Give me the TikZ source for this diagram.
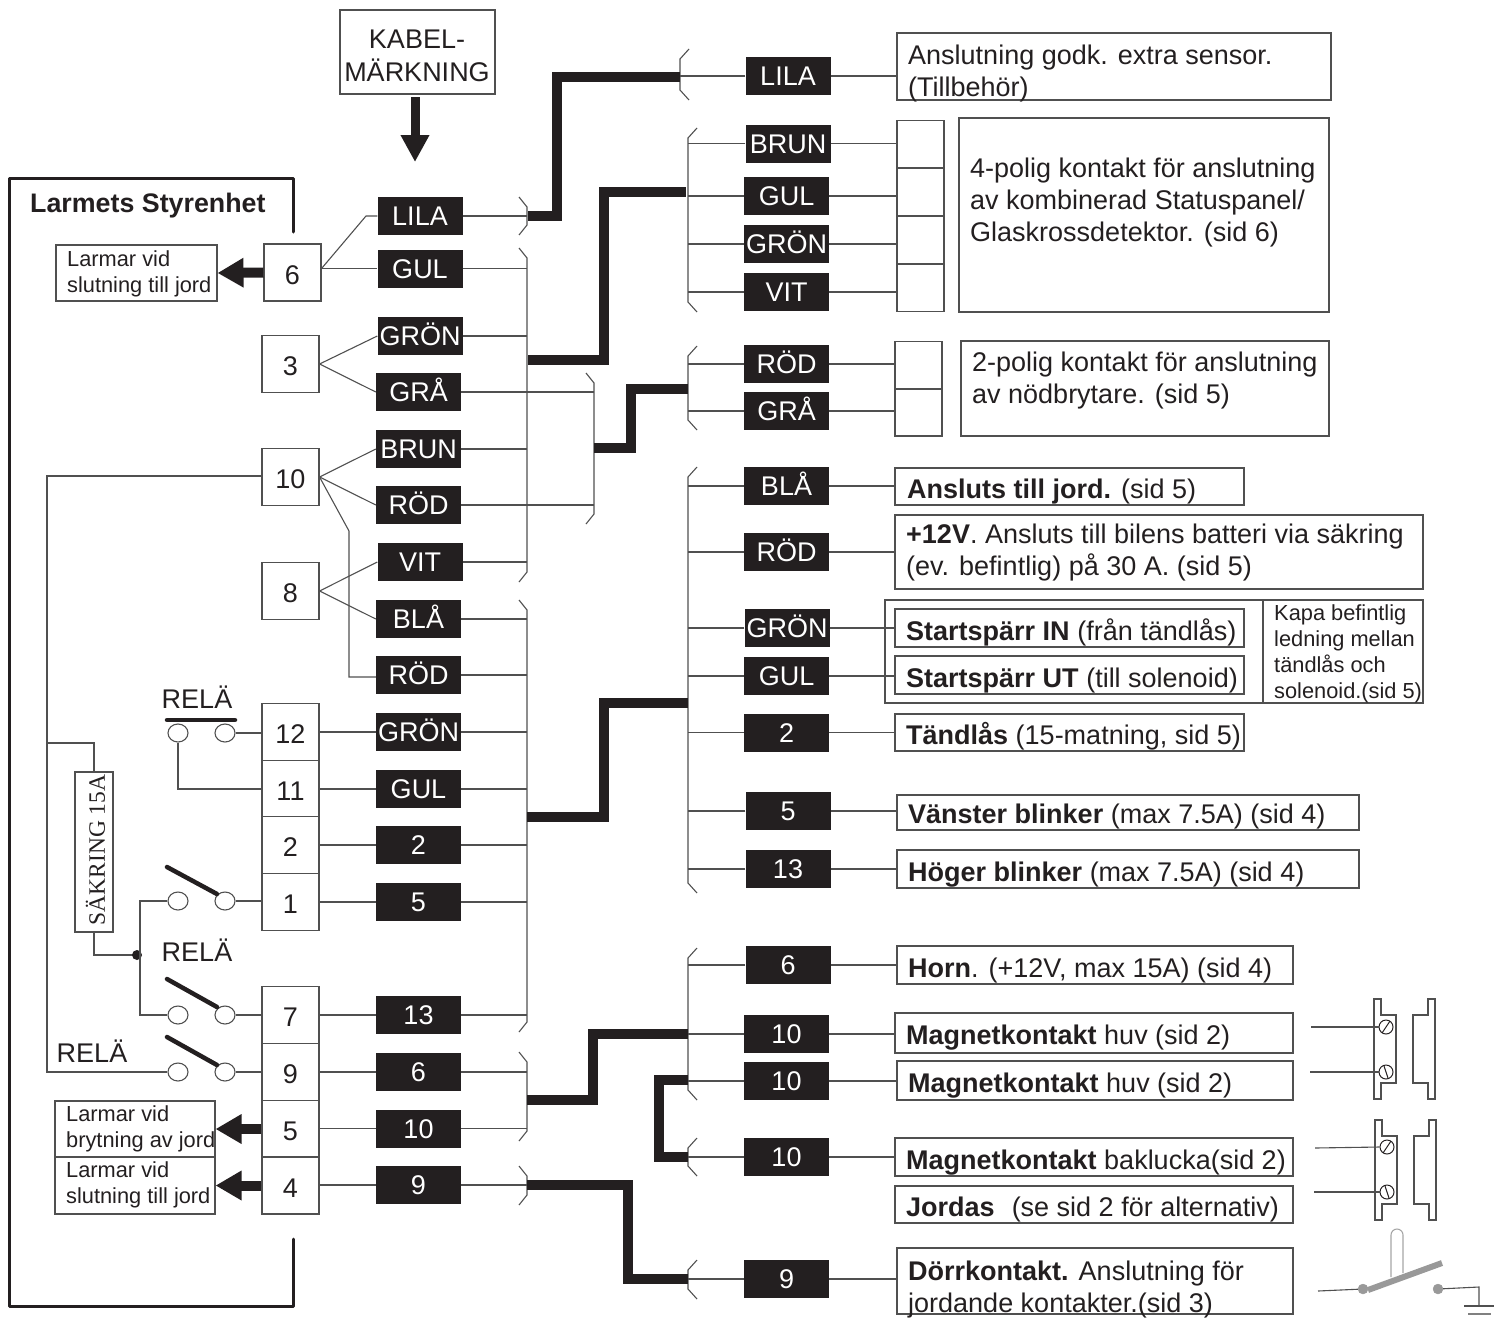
\documentclass[tikz,border=0pt]{standalone}
\usepackage{fontspec}
\setmainfont{Liberation Sans}
\newfontfamily\seriffam{Liberation Serif}
\usetikzlibrary{arrows.meta,shapes.geometric,calc}
\definecolor{ink}{HTML}{231F20}
\definecolor{wirec}{HTML}{505050}
\tikzset{
  wire/.style={draw=wirec,line width=1.1pt},
  thickw/.style={draw=ink,line width=10pt,miter limit=10},
  outline/.style={draw=ink,line width=3pt,line cap=round},
  lab/.style={fill=ink,text=white,minimum width=85pt,minimum height=38pt,inner sep=0pt,text height=19.5pt,text depth=0pt,font=\fontsize{27}{30}\selectfont},
  term/.style={draw=wirec,line width=1.1pt,fill=white,minimum width=57pt,minimum height=57pt,inner sep=0pt,text=ink,text height=23.5pt,text depth=0pt,font=\fontsize{27}{30}\selectfont},
  sq/.style={draw=wirec,line width=1.1pt,minimum width=47pt,minimum height=47pt,inner sep=0pt},
  bx/.style={draw=wirec,line width=1.1pt,inner sep=0pt},
  tx/.style={anchor=west,align=left,inner sep=0pt,yshift=-2.5pt,text=ink,font=\fontsize{27}{32}\selectfont},
  txs/.style={anchor=west,align=left,inner sep=0pt,yshift=-2.5pt,text=ink,font=\fontsize{21.8}{26}\selectfont},
  contact/.style={ellipse,draw=wirec,line width=1.1pt,fill=white,minimum width=20pt,minimum height=18pt,inner sep=0pt},
  blade/.style={draw=ink,line width=4.5pt,line cap=round},
  bigarrow/.style={draw=ink,fill=ink,line width=10pt,-{Triangle[length=26pt,width=28pt]}},
  rel/.style={inner sep=0pt,text=ink,font=\fontsize{27}{30}\selectfont},
  mag/.style={draw=wirec,line width=1.1pt},
  grayp/.style={draw=black!40,fill=black!40},
}
\newcommand\tbx[5]{%
  \pgfmathsetmacro\cxa{(#2+#4)/2}\pgfmathsetmacro\cya{(#3+#5)/2}%
  \pgfmathsetmacro\wa{#4-#2}\pgfmathsetmacro\ha{#5-#3}%
  \node[bx,minimum width=\wa pt,minimum height=\ha pt] (#1) at (\cxa,\cya) {};}
\newcommand\bus[4]{% x, ytop, ybottom, lean direction
  \draw[wire] ($(#1,#2)+(#4,-10)$) -- (#1,#2) -- (#1,#3) -- ($(#1,#3)+(#4,10)$);}
\newcommand\screw[5]{%
  \node[circle,draw=ink,line width=1pt,minimum size=14pt,inner sep=0pt] (#1) at (#2,#3) {};
  \draw[draw=ink,line width=1pt] ($(#1.center)+(#4,#5)$) -- ($(#1.center)-(#4,#5)$);}
\begin{document}
\begin{tikzpicture}[x=1pt,y=-1pt]
\useasboundingbox (0,0) rectangle (1501,1320);
% control unit outline
\coordinate (o1) at (293,232); \coordinate (o2) at (293,178); \coordinate (o3) at (9,178);
\coordinate (o4) at (9,1306); \coordinate (o5) at (293,1306); \coordinate (o6) at (293,1239);
\draw[outline,line join=round] (o1) -- (o2) -- (o3) -- (o4) -- (o5) -- (o6);
\node[anchor=west,inner sep=0pt,text=ink,font=\fontsize{26.8}{30}\selectfont\bfseries] (title) at (30,206) {Larmets Styrenhet};
% kabelmärkning
\node[bx,minimum width=155pt,minimum height=84pt] (kabel) at (417.5,52) {};
\node[align=center,inner sep=0pt,text=ink,font=\fontsize{27}{33}\selectfont] (kabelt) at (417,56) {KABEL-\\MÄRKNING};
\coordinate (ka1) at (415,97); \coordinate (ka2) at (415,162);
\draw[draw=ink,fill=ink,line width=9pt,-{Triangle[length=27pt,width=27pt]}] (ka1) -- (ka2);
% left labels
\node[lab] (lLila) at (420,216) {LILA};
\node[lab] (lGul) at (420,268.5) {GUL};
\node[lab] (lGron) at (420,336) {GRÖN};
\node[lab] (lGra) at (418.5,392) {GRÅ};
\node[lab] (lBrun) at (418.5,449) {BRUN};
\node[lab] (lRod) at (418.5,505) {RÖD};
\node[lab] (lVit) at (420,562) {VIT};
\node[lab] (lBla) at (418.5,619) {BLÅ};
\node[lab] (lRodb) at (418.5,675) {RÖD};
\node[lab] (lGronb) at (418.5,732) {GRÖN};
\node[lab] (lGulb) at (418.5,789) {GUL};
\node[lab] (lTwo) at (418.5,845) {2};
\node[lab] (lFive) at (418.5,902) {5};
\node[lab] (lThirteen) at (418.5,1015) {13};
\node[lab] (lSix) at (418.5,1072) {6};
\node[lab] (lTen) at (418.5,1128.5) {10};
\node[lab] (lNine) at (418.5,1185) {9};
% terminals
\node[term] (t6) at (292.5,272.5) {6};
\node[term] (t3) at (290.5,364) {3};
\node[term] (t10) at (290.5,477) {10};
\node[term] (t8) at (290.5,591) {8};
\node[term] (t12) at (290.5,732) {12};
\node[term] (t11) at (290.5,789) {11};
\node[term] (t2) at (290.5,845) {2};
\node[term] (t1) at (290.5,902) {1};
\node[term] (t7) at (290.5,1015) {7};
\node[term] (t9) at (290.5,1072) {9};
\node[term] (t5) at (290.5,1129) {5};
\node[term] (t4) at (290.5,1185.5) {4};
% alarm boxes
\tbx{larA}{56}{245}{217}{301}
\tbx{larB}{55}{1101}{215}{1157}
\tbx{larC}{55}{1157}{215}{1214}
\node[txs] (larAt) at (67,271) {Larmar vid\\slutning till jord};
\node[txs] (larBt) at (66,1126) {Larmar vid\\brytning av jord};
\node[txs] (larCt) at (66,1182) {Larmar vid\\slutning till jord};
\draw[bigarrow] (t6.west) -- (larA.east);
\draw[bigarrow] (t5.west) -- (larB.east);
\draw[bigarrow] (t4.west) -- (larC.east);
% terminal to label wires
\coordinate (k1) at (366,216); \coordinate (k2) at (349,531); \coordinate (k3) at (349,677);
\draw[wire] (t6.east |- lGul) -- (k1) -- (lLila.west);
\draw[wire] (t6.east |- lGul) -- (lGul.west);
\draw[wire] (t3.east) -- (lGron.west);
\draw[wire] (t3.east) -- (lGra.west);
\draw[wire] (t10.east) -- (lBrun.west);
\draw[wire] (t10.east) -- (lRod.west);
\draw[wire] (t10.east) -- (k2) -- (k3) -- (lRodb.west |- k3);
\draw[wire] (t8.east) -- (lVit.west);
\draw[wire] (t8.east) -- (lBla.west);
\foreach \a/\b in {t12/lGronb,t11/lGulb,t2/lTwo,t1/lFive,t7/lThirteen,t9/lSix,t5/lTen,t4/lNine}
  \draw[wire] (\a.east |- \b.west) -- (\b.west);
% left buses
\coordinate (busA) at (527,0); \coordinate (busB) at (594,0);
\bus{527}{207}{225}{-8}
\bus{527}{258}{572}{-8}
\bus{594}{383}{514}{-8}
\bus{527}{610}{1022}{-8}
\bus{527}{1062}{1131}{-8}
\bus{527}{1176}{1195}{-8}
\foreach \n in {lLila,lGul,lGron,lBrun,lVit,lBla,lRodb,lGronb,lGulb,lTwo,lFive,lThirteen,lSix,lTen,lNine}
  \draw[wire] (\n.east) -- (\n.east -| busA);
\draw[wire] (lGra.east) -- (lGra.east -| busB);
\draw[wire] (lRod.east) -- (lRod.east -| busB);
% right labels
\node[lab] (rLila) at (788,76) {LILA};
\node[lab] (rBrun) at (788,143.5) {BRUN};
\node[lab] (rGul) at (786.5,196) {GUL};
\node[lab] (rGron) at (786.5,244) {GRÖN};
\node[lab] (rVit) at (786.5,292) {VIT};
\node[lab] (rRod) at (786.5,364) {RÖD};
\node[lab] (rGra) at (786.5,411) {GRÅ};
\node[lab] (rBla) at (786.5,486) {BLÅ};
\node[lab] (rRodb) at (786.5,552) {RÖD};
\node[lab] (rGronb) at (787,628) {GRÖN};
\node[lab] (rGulb) at (786.5,676) {GUL};
\node[lab] (rTwo) at (786.5,732.5) {2};
\node[lab] (rFive) at (788,811) {5};
\node[lab] (rThirteen) at (788,869) {13};
\node[lab] (rSix) at (788,965) {6};
\node[lab] (rTena) at (786.5,1034) {10};
\node[lab] (rTenb) at (786.5,1081) {10};
\node[lab] (rTenc) at (786.5,1157) {10};
\node[lab] (rNine) at (786.5,1279) {9};
% right buses
\coordinate (busC) at (680,0); \coordinate (busD) at (688,0);
\bus{680}{59}{90}{9}
\bus{688}{138}{302}{9}
\bus{688}{356}{420}{9}
\bus{688}{477}{883}{9}
\bus{688}{958}{1090}{9}
\bus{688}{1148}{1166}{9}
\bus{688}{1270}{1289}{9}
\draw[wire] (rLila.west) -- (rLila.west -| busC);
\foreach \n in {rBrun,rGul,rGron,rVit,rRod,rGra,rBla,rRodb,rGronb,rGulb,rTwo,rFive,rThirteen,rSix,rTena,rTenb,rTenc,rNine}
  \draw[wire] (\n.west) -- (\n.west -| busD);
% thick trunks
\coordinate (a1) at (528,216); \coordinate (a2) at (557,216); \coordinate (a3) at (557,76.5); \coordinate (a4) at (680,76.5);
\draw[thickw] (a1) -- (a2) -- (a3) -- (a4);
\coordinate (b1) at (528,360); \coordinate (b2) at (604,360); \coordinate (b3) at (604,192); \coordinate (b4) at (686,192);
\draw[thickw] (b1) -- (b2) -- (b3) -- (b4);
\coordinate (c1) at (594,448); \coordinate (c2) at (631,448); \coordinate (c3) at (631,389); \coordinate (c4) at (688,389);
\draw[thickw] (c1) -- (c2) -- (c3) -- (c4);
\coordinate (d1) at (527,817); \coordinate (d2) at (604,817); \coordinate (d3) at (604,703); \coordinate (d4) at (688,703);
\draw[thickw] (d1) -- (d2) -- (d3) -- (d4);
\coordinate (e1) at (527,1100); \coordinate (e2) at (593,1100); \coordinate (e3) at (593,1034); \coordinate (e4) at (688,1034);
\draw[thickw] (e1) -- (e2) -- (e3) -- (e4);
\coordinate (f1) at (688,1080); \coordinate (f2) at (659,1080); \coordinate (f3) at (659,1157); \coordinate (f4) at (688,1157);
\draw[thickw] (f1) -- (f2) -- (f3) -- (f4);
\coordinate (g1) at (527,1185); \coordinate (g2) at (628,1185); \coordinate (g3) at (628,1279); \coordinate (g4) at (688,1279);
\draw[thickw] (g1) -- (g2) -- (g3) -- (g4);
% squares
\node[sq] (s1) at (920.5,144) {};
\node[sq] (s2) at (920.5,192) {};
\node[sq] (s3) at (920.5,240) {};
\node[sq] (s4) at (920.5,288) {};
\node[sq] (s5) at (918.5,365) {};
\node[sq] (s6) at (918.5,412.5) {};
\draw[wire] (rBrun.east) -- (rBrun.east -| s1.west);
\draw[wire] (rGul.east) -- (rGul.east -| s2.west);
\draw[wire] (rGron.east) -- (rGron.east -| s3.west);
\draw[wire] (rVit.east) -- (rVit.east -| s4.west);
\draw[wire] (rRod.east) -- (rRod.east -| s5.west);
\draw[wire] (rGra.east) -- (rGra.east -| s6.west);
% right text boxes
\tbx{bA}{897}{33}{1331}{100}
\tbx{bB}{959}{118}{1329}{312}
\tbx{bC}{961}{341}{1329}{436}
\tbx{bD}{895}{468}{1244}{505}
\tbx{bE}{895}{515}{1423}{589}
\tbx{bF}{885}{600}{1263}{703}
\tbx{bG}{1263}{600}{1423}{703}
\tbx{bH}{895}{609}{1244}{647}
\tbx{bI}{895}{656}{1244}{694}
\tbx{bJ}{895}{714}{1244}{751}
\tbx{bK}{897}{795}{1359}{830}
\tbx{bL}{897}{850}{1359}{888}
\tbx{bM}{897}{946}{1293}{984}
\tbx{bN}{895}{1013}{1293}{1053}
\tbx{bO}{897}{1061}{1293}{1100}
\tbx{bP}{895}{1138}{1293}{1176}
\tbx{bQ}{895}{1186}{1293}{1223}
\tbx{bR}{897}{1248}{1293}{1314}
\node[tx] (tA) at (908,71) {Anslutning godk. extra sensor.\\(Tillbehör)};
\node[tx] (tB) at (970,200) {4-polig kontakt för anslutning\\av kombinerad Statuspanel/\\Glaskrossdetektor. (sid 6)};
\node[tx] (tC) at (972,378) {2-polig kontakt för anslutning\\av nödbrytare. (sid 5)};
\node[tx] (tD) at (907,489) {\textbf{Ansluts till jord.} (sid 5)};
\node[tx] (tE) at (906,550) {\textbf{+12V}. Ansluts till bilens batteri via säkring\\(ev. befintlig) på 30 A. (sid 5)};
\node[tx] (tH) at (906,630) {\textbf{Startspärr IN} (från tändlås)};
\node[tx] (tI) at (906,678) {\textbf{Startspärr UT} (till solenoid)};
\node[tx] (tJ) at (906,734) {\textbf{Tändlås} (15-matning, sid 5)};
\node[txs] (tG) at (1274,651) {Kapa befintlig\\ledning mellan\\tändlås och\\solenoid.(sid 5)};
\node[tx] (tK) at (908,814) {\textbf{Vänster blinker} (max 7.5A) (sid 4)};
\node[tx] (tL) at (908,872) {\textbf{Höger blinker} (max 7.5A) (sid 4)};
\node[tx] (tM) at (908,968) {\textbf{Horn}. (+12V, max 15A) (sid 4)};
\node[tx] (tN) at (906,1035) {\textbf{Magnetkontakt} huv (sid 2)};
\node[tx] (tO) at (908,1083) {\textbf{Magnetkontakt} huv (sid 2)};
\node[tx] (tP) at (906,1160) {\textbf{Magnetkontakt} baklucka(sid 2)};
\node[tx] (tQ) at (906,1207) {\textbf{Jordas}\hspace{17pt}(se sid 2 för alternativ)};
\node[tx] (tR) at (908,1287) {\textbf{Dörrkontakt.} Anslutning för\\jordande kontakter.(sid 3)};
% right label to box wires
\foreach \n/\b in {rLila/bA,rBla/bD,rRodb/bE,rGronb/bH,rGulb/bI,rTwo/bJ,rFive/bK,rThirteen/bL,rSix/bM,rTena/bN,rTenb/bO,rTenc/bP,rNine/bR}
  \draw[wire] (\n.east) -- (\n.east -| \b.west);
% relays
\node[contact] (c1a) at (178,733) {};
\node[contact] (c1b) at (225,733) {};
\node[contact] (c2a) at (178,901) {};
\node[contact] (c2b) at (225,901) {};
\node[contact] (c3a) at (178,1015) {};
\node[contact] (c3b) at (225,1015) {};
\node[contact] (c4a) at (178,1072) {};
\node[contact] (c4b) at (225,1072) {};
\coordinate (bl1a) at (167,720); \coordinate (bl1b) at (235,720);
\draw[blade] (bl1a) -- (bl1b);
\coordinate (bl2a) at (167,867); \coordinate (bl2b) at (217,894);
\draw[blade] (bl2a) -- (bl2b);
\coordinate (bl3a) at (167,979); \coordinate (bl3b) at (217,1007);
\draw[blade] (bl3a) -- (bl3b);
\coordinate (bl4a) at (167,1037); \coordinate (bl4b) at (217,1065);
\draw[blade] (bl4a) -- (bl4b);
\node[rel] (rl1) at (197,697) {RELÄ};
\node[rel] (rl2) at (197,950) {RELÄ};
\node[rel] (rl3) at (92,1051) {RELÄ};
\draw[wire] (c1b.east) -- (c1b.east -| t12.west);
\draw[wire] (c1a.south) |- (t11.west);
\draw[wire] (c2b.east) -- (c2b.east -| t1.west);
\draw[wire] (c3b.east) -- (c3b.east -| t7.west);
\draw[wire] (c4b.east) -- (c4b.east -| t9.west);
% fuse
\node[bx,minimum width=38pt,minimum height=160pt] (fuse) at (94,852) {};
\node[rotate=90,inner sep=0pt,text=ink,font=\seriffam\fontsize{23.5}{25}\selectfont] (fuset) at (95.5,850) {SÄKRING 15A};
\coordinate (j0) at (47,476); \coordinate (j1) at (47,743); \coordinate (j2) at (47,1072);
\coordinate (dotc) at (137,955); \coordinate (v1) at (140,901); \coordinate (v2) at (140,1015);
\draw[wire] (t10.west |- j0) -- (j0) -- (j2) -- (c4a.west);
\draw[wire] (j1) -| (fuse.north);
\draw[wire] (fuse.south) |- (dotc);
\fill[ink] (dotc) circle (5);
\draw[wire] (c2a.west) -- (v1) -- (v2) -- (c3a.west);
% magnet contacts
\foreach \dx/\dy in {0/0,1/121}{
  \begin{scope}[shift={(\dx,\dy)}]
    \draw[mag] (1374,999) -- (1381,999) -- (1381,1015) -- (1396,1015) -- (1396,1083) -- (1381,1083) -- (1381,1099) -- (1374,1099) -- cycle;
    \draw[mag] (1428,999) -- (1435,999) -- (1435,1099) -- (1428,1099) -- (1428,1083) -- (1413,1083) -- (1413,1015) -- (1428,1015) -- cycle;
  \end{scope}
}
\screw{sA}{1386}{1027}{4}{-6}
\screw{sB}{1386}{1072}{-2}{-6}
\screw{sC}{1387}{1147}{4}{-6}
\screw{sD}{1387}{1192}{-2}{-6}
\coordinate (wA) at (1311,1027); \coordinate (wB) at (1310,1072); \coordinate (wC) at (1315,1148); \coordinate (wD) at (1314,1192);
\draw[wire] (wA) -- (sA.west);
\draw[wire] (wB) -- (sB.west);
\draw[wire] (wC) -- (sC.west);
\draw[wire] (wD) -- (sD.west);
% door switch
\coordinate (pA) at (1391,1277); \coordinate (pB) at (1391,1235); \coordinate (pD) at (1403,1273);
\draw[draw=black!35,line width=1.1pt] (pA) -- (pB) arc[start angle=180,end angle=360,radius=6] -- (pD);
\coordinate (dA) at (1368,1290); \coordinate (dB) at (1442,1263);
\draw[draw=black!40,line width=6pt] (dA) -- (dB);
\node[circle,grayp,minimum size=10pt,inner sep=0pt] (dL) at (1363,1289) {};
\node[circle,grayp,minimum size=10pt,inner sep=0pt] (dR) at (1438,1289) {};
\coordinate (dW) at (1318,1291); \coordinate (gT) at (1479,1287); \coordinate (gB) at (1479,1306);
\coordinate (g1l) at (1464,1306); \coordinate (g1r) at (1494,1306); \coordinate (g2l) at (1468,1314); \coordinate (g2r) at (1491,1314);
\draw[wire] (dW) -- (dL);
\draw[wire] (dR) -- (gT) -- (gB);
\draw[wire] (g1l) -- (g1r);
\draw[draw=black!50,line width=1.1pt] (g2l) -- (g2r);
\end{tikzpicture}
\end{document}
